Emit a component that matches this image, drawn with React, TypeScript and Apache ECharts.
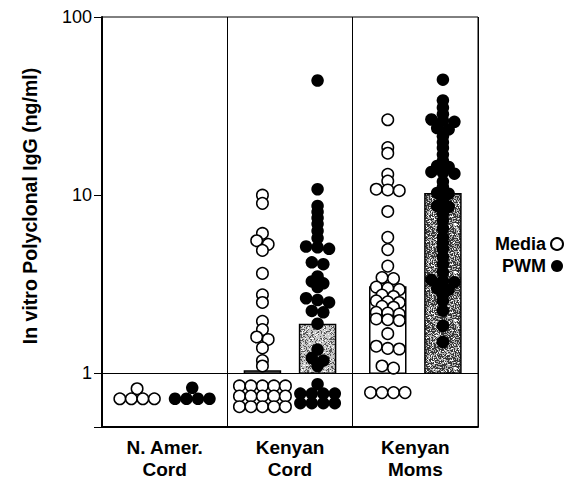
import React, { useEffect, useRef } from 'react';
import * as echarts from 'echarts';

// ---------- data ----------
const categories = ['N. Amer.\nCord', 'Kenyan\nCord', 'Kenyan\nMoms'];
const seriesNames = ['Media', 'PWM'];
const yTickValues = [1, 10, 100];

const naCordMedia = [0.82, 0.72, 0.72, 0.72, 0.72];
const naCordPwm = [0.83, 0.72, 0.72, 0.72, 0.72];

const keCordMedia = [
  10.0, 9.0, 6.1, 5.55, 5.3, 4.9, 3.64, 2.76, 2.5, 1.96, 1.76, 1.6, 1.55, 1.39, 1.18, 1.1,
  0.85, 0.85, 0.85, 0.85, 0.85, 0.745, 0.745, 0.745, 0.745, 0.745, 0.65, 0.65, 0.65, 0.65, 0.65,
];
const keCordPwm = [
  44.0, 10.8, 8.7, 8.05, 7.45, 6.9, 6.3, 5.75, 5.15, 5.1, 5.0, 4.2, 4.1, 3.5, 3.28, 3.2, 3.05,
  2.64, 2.58, 2.5, 2.24, 2.2, 1.9, 1.36, 1.22, 1.18, 1.1,
  0.87, 0.77, 0.77, 0.77, 0.77, 0.68, 0.68, 0.68, 0.68,
];
const keMomsMedia = [
  26.5, 18.5, 17.2, 13.1, 12.0, 10.8, 10.7, 10.6, 8.1, 5.8, 4.95, 4.0, 3.45, 3.4,
  3.05, 3.0, 2.95, 2.75, 2.7, 2.55, 2.52, 2.5, 2.38, 2.35, 2.2, 2.18, 2.15, 2.02, 2.0, 1.98,
  1.67, 1.42, 1.38, 1.37, 1.1, 1.07, 0.78, 0.78, 0.78, 0.78,
];
const keMomsPwm = [
  44.5, 34.0, 31.0, 28.5, 26.6, 26.2, 25.8, 23.8, 23.4, 21.4, 19.8, 18.4, 16.9, 15.6, 14.6, 14.4,
  13.5, 13.4, 13.2, 11.9, 11.1, 10.3, 10.2, 9.4, 8.7, 8.6, 7.9, 7.2, 6.5, 5.8, 5.4, 5.0, 4.5, 4.1, 3.7,
  3.35, 3.3, 3.25, 3.0, 2.95, 2.75, 2.55, 2.25, 1.85, 1.5,
];

const mediaGroups = [naCordMedia, keCordMedia, keMomsMedia];
const pwmGroups = [naCordPwm, keCordPwm, keMomsPwm];
const mediaMeans: (number | null)[] = [null, 1.03, 3.05];
const pwmMeans: (number | null)[] = [null, 1.88, 10.2];

// ---------- layout / style ----------
const W = 571;
const H = 480;
const GRID = { left: 102, right: 93, top: 17, bottom: 52 };
const Y_MIN = 0.5;
const Y_MAX = 100;
const plotW = W - GRID.left - GRID.right;
const plotH = H - GRID.top - GRID.bottom;
const pxPerUnitX = plotW / 3;
const pxPerDecade = plotH / (Math.log10(Y_MAX) - Math.log10(Y_MIN));
const SERIES_OFFSET = 0.22;
const DOT_SPACING_PX = 11.5;
const ROW_TOL_DEC = 5 / pxPerDecade;
const BAR_W_PX = 36;
const FONT = '"Liberation Sans", Arial, Helvetica, sans-serif';

// stipple texture for the bars: [dark fraction, light grey, dark grey]
const mediaBarTexture: (number[] | null)[] = [null, [0.0, 125, 125], null];
const pwmBarTexture: (number[] | null)[] = [null, [0.28, 200, 90], [0.5, 175, 55]];

function hash01(x: number, y: number, seed: number) {
  let n = (Math.imul(x, 374761393) + Math.imul(y, 668265263) + Math.imul(seed, 982451653)) | 0;
  n = Math.imul(n ^ (n >>> 13), 1274126177);
  n = n ^ (n >>> 16);
  return (n >>> 0) / 4294967296;
}

function makeStipple(tex: number[] | null, seed: number): any {
  if (!tex) return '#ffffff';
  const [frac, light, dark] = tex;
  if (frac <= 0) return `rgb(${light},${light},${light})`;
  const S = 48;
  const c = document.createElement('canvas');
  c.width = S;
  c.height = S;
  const ctx = c.getContext('2d');
  if (!ctx) return `rgb(${light},${light},${light})`;
  const img = ctx.createImageData(S, S);
  for (let y = 0; y < S; y++) {
    for (let x = 0; x < S; x++) {
      const h = hash01(x, y, seed);
      const g = h < frac ? dark : h > 0.9 ? 255 : light;
      const k = (y * S + x) * 4;
      img.data[k] = g;
      img.data[k + 1] = g;
      img.data[k + 2] = g;
      img.data[k + 3] = 255;
    }
  }
  ctx.putImageData(img, 0, 0);
  return { image: c, repeat: 'repeat', imageWidth: S, imageHeight: S };
}

function dotPlot(values: number[], center: number): number[][] {
  const sorted = [...values].sort((a, b) => b - a);
  const rows: number[][] = [];
  sorted.forEach((v) => {
    const last = rows[rows.length - 1];
    if (last && Math.log10(last[0]) - Math.log10(v) < ROW_TOL_DEC) last.push(v);
    else rows.push([v]);
  });
  const out: number[][] = [];
  rows.forEach((row) => {
    row.forEach((v, i) => {
      const off = (i - (row.length - 1) / 2) * DOT_SPACING_PX;
      out.push([center + off / pxPerUnitX, v]);
    });
  });
  return out;
}

export default function App() {
  const ref = useRef<HTMLDivElement>(null);
  useEffect(() => {
    if (!ref.current) return;
    const chart = echarts.init(ref.current, undefined, { renderer: 'svg' });

    const mediaPts: number[][] = [];
    const pwmPts: number[][] = [];
    mediaGroups.forEach((g, i) => mediaPts.push(...dotPlot(g, i + 0.5 - SERIES_OFFSET)));
    pwmGroups.forEach((g, i) => pwmPts.push(...dotPlot(g, i + 0.5 + SERIES_OFFSET)));

    const barData: number[][] = [];
    const barFills: any[] = [];
    mediaMeans.forEach((m, i) => {
      if (m != null) {
        barData.push([i + 0.5 - SERIES_OFFSET, m]);
        barFills.push(makeStipple(mediaBarTexture[i], 11 + i));
      }
    });
    pwmMeans.forEach((m, i) => {
      if (m != null) {
        barData.push([i + 0.5 + SERIES_OFFSET, m]);
        barFills.push(makeStipple(pwmBarTexture[i], 23 + i));
      }
    });

    chart.setOption({
      animation: false,
      backgroundColor: '#ffffff',
      textStyle: { fontFamily: FONT },
      grid: { ...GRID, show: true, borderColor: '#000', borderWidth: 1, backgroundColor: 'transparent' },
      legend: {
        orient: 'vertical',
        left: 490,
        top: 230,
        align: 'right',
        itemGap: 4,
        itemWidth: 12,
        itemHeight: 12,
        icon: 'circle',
        data: seriesNames,
        textStyle: { fontSize: 18, fontWeight: 'bold', color: '#000', fontFamily: FONT, width: 52 },
      },
      xAxis: [
        {
          type: 'value',
          min: 0,
          max: 3,
          interval: 1,
          axisLine: { show: true, lineStyle: { color: '#000', width: 2 } },
          axisTick: { show: false },
          axisLabel: { show: false },
          splitLine: { show: true, lineStyle: { color: '#000', width: 1 } },
        },
        {
          type: 'category',
          data: categories,
          position: 'bottom',
          axisLine: { show: false },
          axisTick: { show: false },
          splitLine: { show: false },
          axisLabel: {
            color: '#000',
            fontSize: 19,
            fontWeight: 'bold',
            fontFamily: FONT,
            lineHeight: 22,
            margin: 9,
          },
        },
      ],
      yAxis: {
        type: 'log',
        logBase: 10,
        min: Y_MIN,
        max: Y_MAX,
        name: 'In vitro Polyclonal IgG (ng/ml)',
        nameLocation: 'middle',
        nameGap: 62,
        nameTextStyle: {
          fontSize: 19.5,
          fontWeight: 'bold',
          color: '#000',
          fontFamily: FONT,
          padding: [0, 0, 0, 32],
        },
        axisLine: { show: true, lineStyle: { color: '#000', width: 2 } },
        axisTick: { show: true, length: 8, lineStyle: { color: '#000', width: 1 } },
        axisLabel: {
          color: '#000',
          fontSize: 18,
          fontFamily: FONT,
          margin: 10,
          formatter: (v: number) => (yTickValues.some((t) => Math.abs(t - v) < 1e-6) ? String(v) : ''),
        },
        splitLine: { show: false },
      },
      series: [
        {
          type: 'custom',
          name: 'means',
          xAxisIndex: 0,
          z: 1,
          silent: true,
          renderItem: (params: any, api: any) => {
            const x = api.value(0);
            const v = api.value(1);
            const top = api.coord([x, v]);
            const base = api.coord([x, 1]);
            return {
              type: 'rect',
              shape: { x: top[0] - BAR_W_PX / 2, y: top[1], width: BAR_W_PX, height: base[1] - top[1] },
              style: { fill: barFills[params.dataIndex], stroke: '#000', lineWidth: 1.5 },
            };
          },
          data: barData,
        },
        {
          type: 'scatter',
          name: 'Media',
          xAxisIndex: 0,
          z: 3,
          symbol: 'circle',
          symbolSize: 11.5,
          itemStyle: { color: '#ffffff', borderColor: '#000', borderWidth: 1.5, opacity: 1 },
          data: mediaPts,
          markLine: {
            silent: true,
            symbol: 'none',
            label: { show: false },
            lineStyle: { color: '#000', width: 1, type: 'solid' },
            data: [{ yAxis: 1 }],
          },
        },
        {
          type: 'scatter',
          name: 'PWM',
          xAxisIndex: 0,
          z: 4,
          symbol: 'circle',
          symbolSize: 12.5,
          itemStyle: { color: '#000', opacity: 1 },
          data: pwmPts,
        },
      ],
    });
    return () => chart.dispose();
  }, []);
  return <div ref={ref} style={{ position: 'fixed', left: 0, top: 0, width: W, height: H }} />;
}
